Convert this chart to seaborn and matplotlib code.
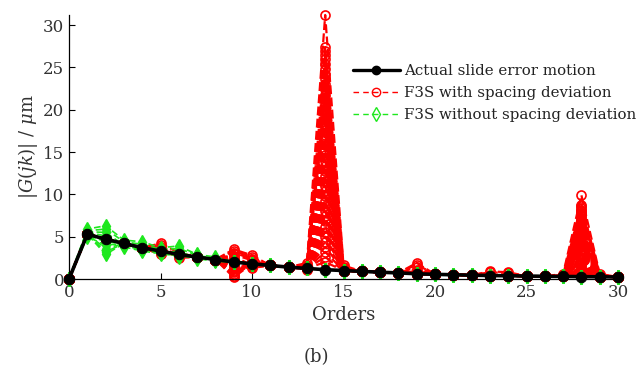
import numpy as np
import pandas as pd
import matplotlib
matplotlib.use('Agg')
import matplotlib.pyplot as plt
from matplotlib.lines import Line2D
import seaborn as sns

# harmonic orders and the actual slide error amplitude
orders = list(range(31))
actual = [0.0, 5.3, 4.7, 4.2, 3.7, 3.3, 2.9, 2.6, 2.3, 2.0, 1.8, 1.6, 1.4, 1.25, 1.1, 1.0,
          0.9, 0.8, 0.72, 0.62, 0.55, 0.5, 0.45, 0.41, 0.38, 0.35, 0.32, 0.3, 0.28, 0.26, 0.24]

# F3S with spacing deviation: per-run values where the runs depart from the actual curve
red_o14 = [31.2, 27.4, 27.0, 26.5, 26.0, 25.4, 24.8, 24.2, 23.6, 23.0, 22.4, 21.8, 21.2, 20.6,
           20.0, 19.4, 18.8, 18.2, 17.6, 17.0, 16.4, 15.8, 15.2, 14.6, 14.0, 13.4, 12.8, 12.2,
           11.6, 11.0, 10.4, 9.8, 9.2, 8.6, 8.0, 7.4, 6.8, 6.2, 5.6, 5.0, 4.4, 3.8, 3.2, 2.6, 2.0]
red_o28 = [9.9, 8.8, 8.6, 8.4, 8.2, 8.0, 7.8, 7.6, 7.4, 7.2, 7.0, 6.8, 6.6, 6.4, 6.2, 6.0,
           5.8, 5.6, 5.4, 5.2, 5.0, 4.8, 4.6, 4.4, 4.2, 4.0, 3.8, 3.6, 3.4, 3.2, 3.0, 2.8,
           2.6, 2.4, 2.2, 2.0, 1.8, 1.6, 1.4, 1.2, 1.0, 0.9, 0.8, 0.7, 0.6]
red_o9 = [3.5, 3.3, 3.1, 2.9, 2.7, 2.5, 2.3, 1.6, 1.4, 1.2, 1.0, 0.8, 0.6, 0.4, 0.2]
red_o10 = [2.8, 2.6, 2.4, 2.2, 1.6, 1.5, 1.4, 1.3]
red_o5 = [4.2, 4.0, 3.8, 3.6, 3.0, 2.9]
red_o6 = [3.1, 2.6, 2.5]
red_o13 = [1.9, 1.7, 1.5, 1.4, 1.2, 1.1]
red_o15 = [1.6, 1.4, 1.3, 1.2, 0.9]
red_o27 = [0.6, 0.5, 0.4]
red_o29 = [0.6, 0.5, 0.4]
red_o19 = [1.9, 1.7, 1.4, 1.1, 0.9]
red_o23 = [0.9, 0.8]
red_o24 = [0.8, 0.7]

# F3S without spacing deviation
green_o1 = [5.9, 5.7, 5.6, 5.5, 5.2, 5.0]
green_o2 = [6.3, 5.9, 5.5, 5.1, 4.4, 4.0, 3.6, 3.2, 2.9]
green_o3 = [4.6, 4.4, 4.0, 3.8]
green_o4 = [4.4, 4.1, 3.4, 3.3]
green_o5 = [3.7, 3.5, 3.1, 3.0]
green_o6 = [3.9, 3.6, 3.3, 2.7, 2.6]
green_o7 = [2.9, 2.8, 2.4]
green_o8 = [2.6, 2.4, 2.1]

n_red = len(red_o14)
n_green = len(green_o2)


def runs_frame(n, overrides):
    rows = []
    for r in range(n):
        for k in orders:
            v = actual[k]
            if k in overrides and r < len(overrides[k]):
                v = overrides[k][r]
            rows.append((r, k, v))
    return pd.DataFrame(rows, columns=['run', 'order', 'value'])


red_df = runs_frame(n_red, {14: red_o14, 28: red_o28, 9: red_o9, 10: red_o10, 5: red_o5,
                            6: red_o6, 13: red_o13, 15: red_o15, 27: red_o27, 29: red_o29,
                            19: red_o19, 23: red_o23, 24: red_o24})
green_df = runs_frame(n_green, {1: green_o1, 2: green_o2, 3: green_o3, 4: green_o4,
                                5: green_o5, 6: green_o6, 7: green_o7, 8: green_o8})

sns.set_style('ticks')
plt.rcParams['font.family'] = ['DejaVu Serif']
plt.rcParams['mathtext.fontset'] = 'dejavuserif'

red = '#ff0000'
green = '#1ee81e'

fig = plt.figure(figsize=(6.36, 3.73), dpi=100)
ax = fig.add_axes([69 / 636, 1 - 279 / 373, (618 - 69) / 636, (279 - 15) / 373])

sns.lineplot(data=red_df, x='order', y='value', units='run', estimator=None, sort=False,
             ax=ax, color=red, lw=1.6, dashes=False, linestyle=(0, (4, 1.5)),
             marker='o', markersize=6.5, markerfacecolor='none', markeredgecolor=red,
             markeredgewidth=1.2, clip_on=False, legend=False)
sns.lineplot(data=green_df, x='order', y='value', units='run', estimator=None, sort=False,
             ax=ax, color=green, lw=1.2, dashes=False, linestyle=(0, (4, 2)),
             marker='d', markersize=7.5, markerfacecolor=green, markeredgecolor=green,
             markeredgewidth=1.0, clip_on=False, legend=False)
sns.lineplot(x=orders, y=actual, ax=ax, color='black', lw=2.6, marker='o', markersize=7.5,
             markeredgecolor='black', clip_on=False, legend=False)

ax.set_xlim(0, 30)
ax.set_ylim(0, 31.2)
ax.set_xticks(range(0, 31, 5))
ax.set_yticks(range(0, 31, 5))
ax.tick_params(direction='in', length=4, width=0.8, labelsize=12, colors='black',
               labelcolor='#333333')
sns.despine(ax=ax)
for s in ['left', 'bottom']:
    ax.spines[s].set_color('black')
    ax.spines[s].set_linewidth(0.9)

ax.set_xlabel('Orders', fontsize=13, color='#333333', labelpad=4)
ax.set_ylabel(r'$|G(jk)|$ / $\mu$m', fontsize=13, color='#333333', labelpad=2)
fig.text(316 / 636, 1 - 357 / 373, '(b)', fontsize=13, color='#333333', ha='center', va='center')

handles = [
    Line2D([], [], color='black', lw=2.4, marker='o', markersize=6),
    Line2D([], [], color=red, lw=1.0, linestyle=(0, (4, 3)), marker='o', markersize=6,
           markerfacecolor='none'),
    Line2D([], [], color=green, lw=1.0, linestyle=(0, (4, 3)), marker='d', markersize=7,
           markerfacecolor='none'),
]
labels = ['Actual slide error motion', 'F3S with spacing deviation',
          'F3S without spacing deviation']
fig.legend(handles, labels, loc='upper left', bbox_to_anchor=(353 / 636, 1 - 64 / 373),
           frameon=False, borderpad=0, borderaxespad=0, handlelength=3.1,
           handletextpad=0.3, labelspacing=0.55, fontsize=10.8, labelcolor='#222222')

fig.savefig('out.png', dpi=100)
